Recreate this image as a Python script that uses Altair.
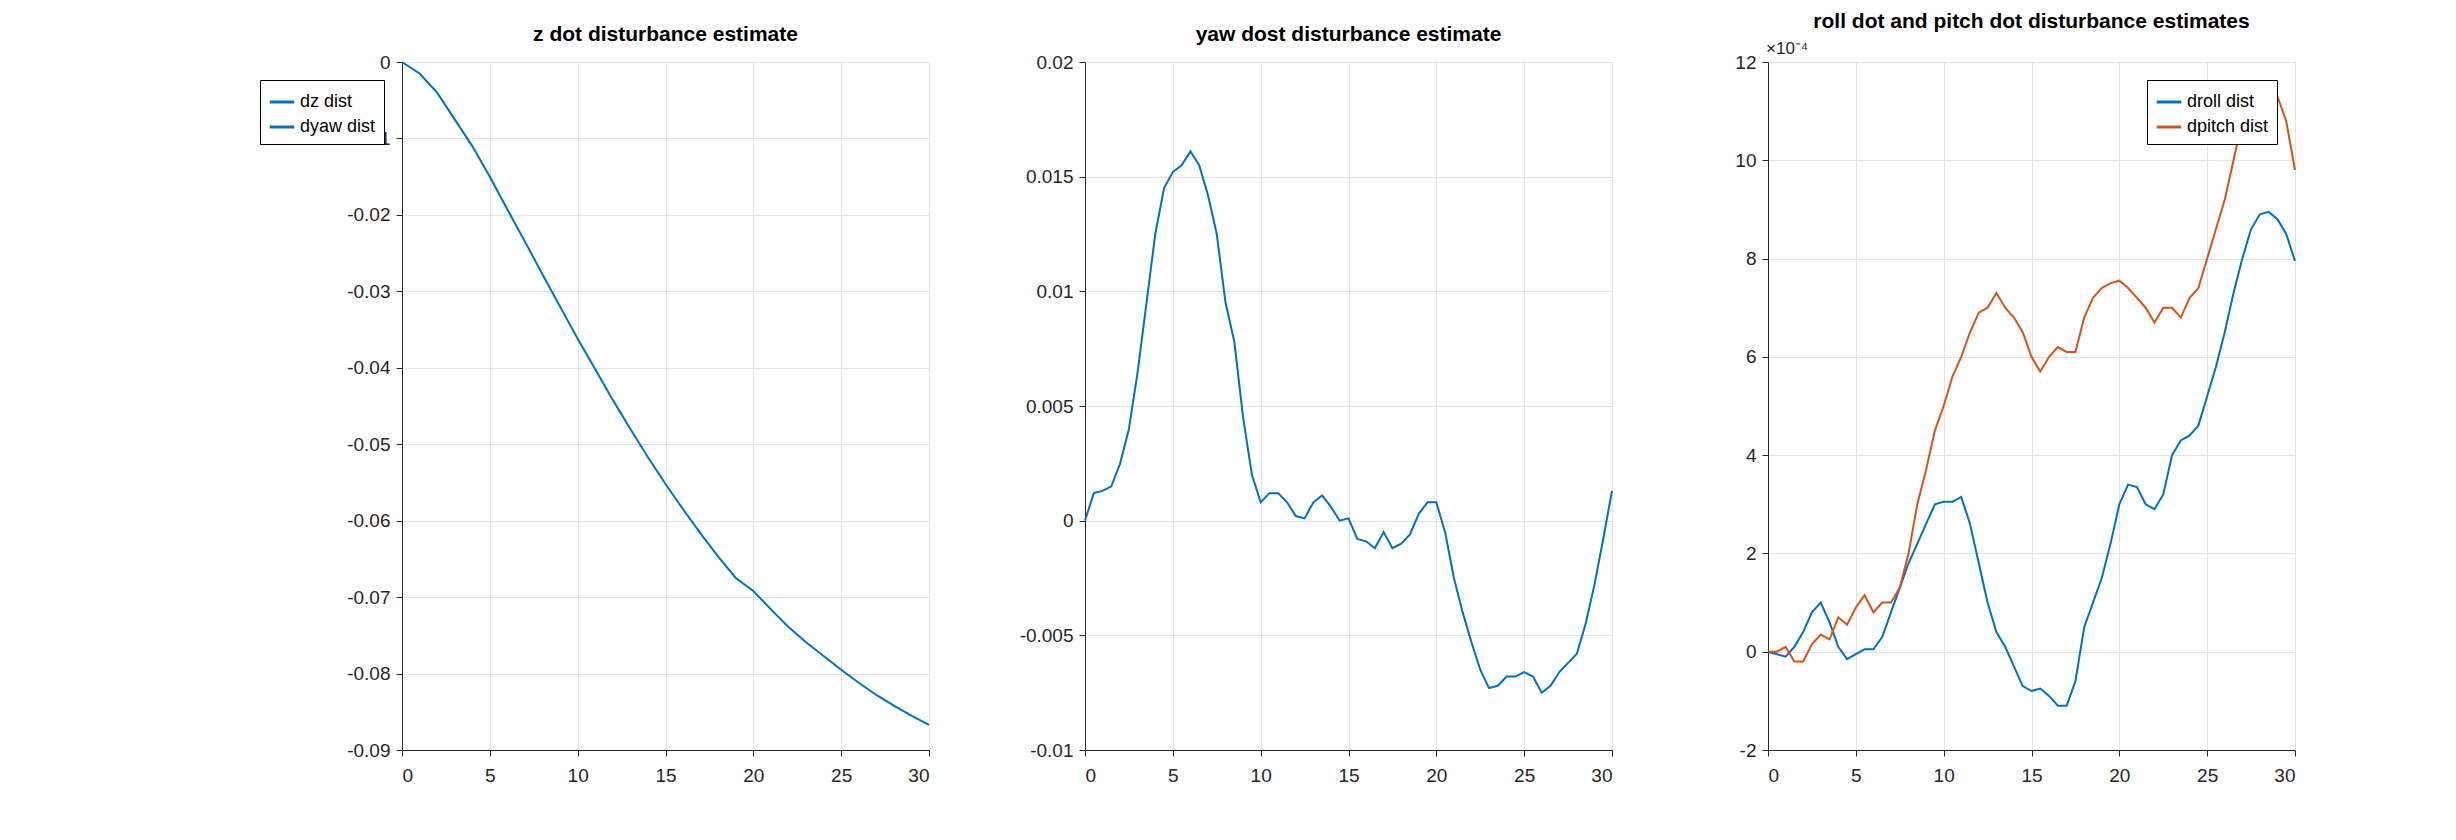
import altair as alt
import pandas as pd

# z dot (t step 1)
t_z = list(range(31))
dz = [0, -0.0015, -0.004, -0.0075, -0.011, -0.015, -0.0193, -0.0235, -0.0278, -0.032,
      -0.0362, -0.0402, -0.0442, -0.048, -0.0517, -0.0552, -0.0585, -0.0617, -0.0647,
      -0.0675, -0.0692, -0.0716, -0.0739, -0.0759, -0.0777, -0.0795, -0.0812, -0.0828,
      -0.0842, -0.0855, -0.0867]

# t step 0.5
t_h = [i * 0.5 for i in range(61)]
dyaw = [0, 0.0012, 0.0013, 0.0015, 0.0025, 0.004, 0.0065, 0.0095, 0.0125, 0.0145, 0.0152,
        0.0155, 0.0161, 0.0155, 0.0142, 0.0125, 0.0095, 0.0078, 0.0045, 0.002, 0.0008,
        0.0012, 0.0012, 0.0008, 0.0002, 0.0001, 0.0008, 0.0011, 0.0006, 0.0, 0.0001,
        -0.0008, -0.0009, -0.0012, -0.0005, -0.0012, -0.001, -0.0006, 0.0003, 0.0008,
        0.0008, -0.0005, -0.0025, -0.004, -0.0053, -0.0065, -0.0073, -0.0072, -0.0068,
        -0.0068, -0.0066, -0.0068, -0.0075, -0.0072, -0.0066, -0.0062, -0.0058, -0.0045,
        -0.0028, -0.0008, 0.0013]

# x 1e-4
droll = [0, -0.05, -0.1, 0.1, 0.4, 0.8, 1.0, 0.6, 0.1, -0.15, -0.05, 0.05, 0.05, 0.3, 0.8,
         1.3, 1.8, 2.2, 2.6, 3.0, 3.05, 3.05, 3.15, 2.6, 1.8, 1.0, 0.4, 0.1, -0.3, -0.7,
         -0.8, -0.75, -0.9, -1.1, -1.1, -0.6, 0.5, 1.0, 1.5, 2.2, 3.0, 3.4, 3.35, 3.0, 2.9,
         3.2, 4.0, 4.3, 4.4, 4.6, 5.2, 5.8, 6.5, 7.3, 8.0, 8.6, 8.9, 8.95, 8.8, 8.5, 7.95]
dpitch = [0, 0.0, 0.1, -0.2, -0.2, 0.15, 0.35, 0.25, 0.7, 0.55, 0.9, 1.15, 0.8, 1.0, 1.0,
          1.3, 2.0, 3.0, 3.7, 4.5, 5.0, 5.6, 6.0, 6.5, 6.9, 7.0, 7.3, 7.0, 6.8, 6.5, 6.0,
          5.7, 6.0, 6.2, 6.1, 6.1, 6.8, 7.2, 7.4, 7.5, 7.55, 7.4, 7.2, 7.0, 6.7, 7.0, 7.0,
          6.8, 7.2, 7.4, 8.0, 8.6, 9.2, 10.0, 10.8, 11.5, 11.6, 11.3, 11.3, 10.8, 9.8]

BLUE = '#0072BD'
ORANGE = '#D95319'
W, H = 527, 688


def panel(df, title, names, colors, ydom, yticks, yfmt):
    leg = alt.Legend(title=None, orient='top-right', offset=18, strokeColor='black',
                     fillColor='white', padding=8, labelFontSize=18, symbolType='stroke',
                     symbolStrokeWidth=3, symbolSize=600, labelFont='Liberation Sans',
                     cornerRadius=0)
    return alt.Chart(df).mark_line(strokeWidth=2).encode(
        x=alt.X('t:Q', scale=alt.Scale(domain=[0, 30], nice=False),
                axis=alt.Axis(values=list(range(0, 31, 5)), title=None)),
        y=alt.Y('v:Q', scale=alt.Scale(domain=ydom, nice=False, zero=False),
                axis=alt.Axis(values=yticks, title=None, format=yfmt,
                              labelExpr="replace(datum.label, '−', '-')")),
        color=alt.Color('s:N', scale=alt.Scale(domain=names, range=colors), legend=leg),
    ).properties(width=W, height=H, title=title)


df1 = pd.DataFrame({'t': t_z, 'v': dz, 's': 'dz dist'})
df2 = pd.DataFrame({'t': t_h, 'v': dyaw, 's': 'dyaw dist'})
df3 = pd.concat([pd.DataFrame({'t': t_h, 'v': droll, 's': 'droll dist'}),
                 pd.DataFrame({'t': t_h, 'v': dpitch, 's': 'dpitch dist'})])

c1 = panel(df1, 'z dot disturbance estimate', ['dz dist'], [BLUE], [-0.09, 0],
           [round(-0.01 * i, 2) for i in range(10)], '~g')
c2 = panel(df2, 'yaw dost disturbance estimate', ['dyaw dist'], [BLUE], [-0.01, 0.02],
           [-0.01, -0.005, 0, 0.005, 0.01, 0.015, 0.02], '~g')
c3 = panel(df3, 'roll dot and pitch dot disturbance estimates', ['droll dist', 'dpitch dist'],
           [BLUE, ORANGE], [-2, 12], list(range(-2, 13, 2)), 'd')
expo = alt.Chart(pd.DataFrame({'a': ['×10⁻⁴']})).mark_text(
    align='left', baseline='bottom', fontSize=17, font='Liberation Sans', color='#262626'
).encode(x=alt.value(-2), y=alt.value(-4), text='a:N')
c3 = alt.layer(c3, expo)

left = alt.hconcat(c1, c2, spacing=84)
chart = alt.hconcat(left, c3, spacing=117).resolve_scale(color='independent').properties(
    padding={'left': 251, 'top': 2, 'right': 10, 'bottom': 10}
).configure_view(stroke='#e6e6e6').configure_axis(
    grid=True, gridColor='#e3e3e3', domainColor='#262626', tickColor='#262626',
    labelFont='Liberation Sans', labelFontSize=19, labelColor='#262626', tickSize=6,
    labelPadding=6
).configure_title(font='Liberation Sans', fontSize=21, fontWeight='bold', color='black',
                  offset=8).configure_axisX(labelPadding=10)

chart.save("out.html", embed_options={"renderer": "svg", "actions": False})
